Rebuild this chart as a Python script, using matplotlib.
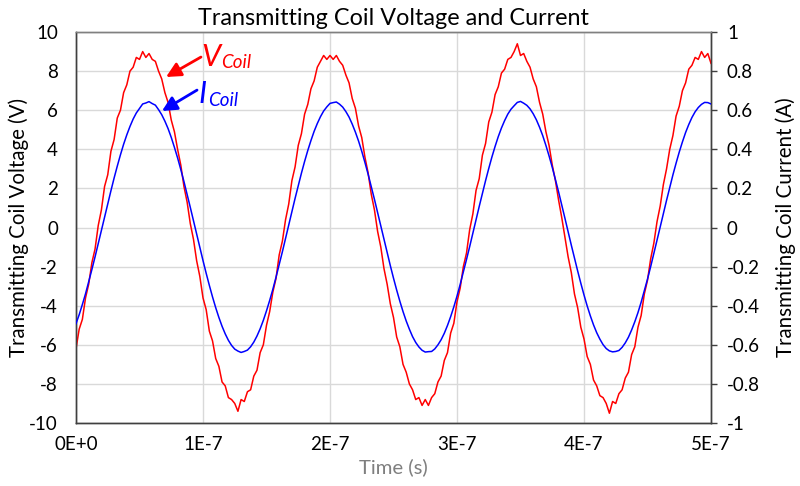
import numpy as np
import matplotlib
matplotlib.use("Agg")
import matplotlib.pyplot as plt

plt.rcParams['font.family'] = ['Lato', 'DejaVu Sans']

# ---- data ----
t_start, t_end = 0.0, 5e-7
n_samples = 201  # sampled every 2.5 ns

coil_voltage = [
    -6.2, -5.2, -4.7, -3.6, -2.9, -1.8, -1.1, 0.1, 0.9, 2.1,
    2.7, 3.9, 4.5, 5.6, 6.0, 6.9, 7.3, 8.0, 8.2, 8.7,
    8.6, 9.0, 8.7, 8.9, 8.6, 8.5, 8.0, 7.6, 6.9, 6.4,
    5.5, 4.9, 4.0, 3.2, 2.1, 1.3, 0.2, -0.6, -1.7, -2.5,
    -3.6, -4.2, -5.3, -5.8, -6.7, -7.1, -7.9, -8.1, -8.7, -8.8,
    -9.0, -9.4, -8.8, -8.9, -8.4, -8.3, -7.6, -7.3, -6.4, -6.0,
    -5.0, -4.3, -3.3, -2.6, -1.4, -0.7, 0.4, 1.2, 2.4, 3.1,
    4.2, 4.8, 5.8, 6.3, 7.1, 7.5, 8.2, 8.5, 8.8, 8.6,
    8.8, 8.6, 8.8, 8.5, 8.3, 7.8, 7.4, 6.6, 6.1, 5.2,
    4.6, 3.6, 2.8, 1.7, 0.9, -0.2, -1.0, -2.1, -2.9, -3.9,
    -4.6, -5.6, -6.1, -7.0, -7.4, -8.0, -8.3, -8.8, -8.7, -9.1,
    -8.8, -9.1, -8.7, -8.5, -7.9, -7.6, -6.8, -6.4, -5.4, -4.9,
    -3.8, -3.1, -2.0, -1.3, -0.1, 0.7, 1.9, 2.5, 3.7, 4.3,
    5.4, 5.9, 6.8, 7.2, 7.9, 8.1, 8.6, 8.7, 9.0, 9.4,
    8.8, 8.9, 8.5, 8.2, 7.6, 7.2, 6.4, 5.8, 4.9, 4.2,
    3.2, 2.4, 1.4, 0.5, -0.5, -1.5, -2.3, -3.4, -4.1, -5.1,
    -5.7, -6.6, -7.0, -7.8, -8.1, -8.6, -8.7, -9.0, -9.5, -8.9,
    -9.0, -8.5, -8.3, -7.7, -7.4, -6.5, -6.1, -5.1, -4.5, -3.4,
    -2.7, -1.6, -0.8, 0.3, 1.1, 2.2, 3.0, 4.0, 4.7, 5.7,
    6.2, 7.0, 7.4, 8.1, 8.3, 8.7, 8.6, 9.0, 8.7, 8.9,
    8.4,
]

coil_current = [
    -0.492, -0.446, -0.394, -0.339, -0.278, -0.215, -0.150, -0.082, -0.014, 0.055,
    0.123, 0.188, 0.253, 0.314, 0.372, 0.426, 0.474, 0.517, 0.555, 0.586,
    0.609, 0.632, 0.637, 0.644, 0.634, 0.626, 0.603, 0.577, 0.544, 0.506,
    0.461, 0.410, 0.356, 0.297, 0.235, 0.170, 0.103, 0.035, -0.034, -0.102,
    -0.169, -0.234, -0.296, -0.355, -0.410, -0.460, -0.505, -0.544, -0.577, -0.603,
    -0.622, -0.632, -0.639, -0.634, -0.627, -0.610, -0.586, -0.555, -0.518, -0.475,
    -0.426, -0.373, -0.316, -0.254, -0.189, -0.124, -0.055, 0.013, 0.081, 0.149,
    0.214, 0.278, 0.338, 0.394, 0.445, 0.492, 0.532, 0.567, 0.596, 0.617,
    0.635, 0.639, 0.642, 0.631, 0.616, 0.593, 0.565, 0.529, 0.488, 0.442,
    0.390, 0.333, 0.273, 0.209, 0.144, 0.076, 0.008, -0.060, -0.129, -0.195,
    -0.259, -0.320, -0.377, -0.430, -0.478, -0.520, -0.558, -0.588, -0.611, -0.628,
    -0.637, -0.635, -0.634, -0.621, -0.600, -0.574, -0.541, -0.501, -0.456, -0.406,
    -0.351, -0.291, -0.228, -0.163, -0.097, -0.028, 0.041, 0.108, 0.175, 0.240,
    0.302, 0.361, 0.415, 0.465, 0.509, 0.547, 0.580, 0.605, 0.623, 0.640,
    0.645, 0.636, 0.625, 0.607, 0.582, 0.551, 0.513, 0.470, 0.420, 0.366,
    0.308, 0.246, 0.182, 0.115, 0.047, -0.022, -0.090, -0.157, -0.222, -0.285,
    -0.345, -0.401, -0.452, -0.498, -0.538, -0.571, -0.599, -0.619, -0.631, -0.636,
    -0.634, -0.629, -0.613, -0.590, -0.561, -0.524, -0.482, -0.435, -0.382, -0.324,
    -0.264, -0.200, -0.133, -0.066, 0.003, 0.071, 0.139, 0.204, 0.269, 0.329,
    0.386, 0.438, 0.486, 0.527, 0.563, 0.592, 0.614, 0.630, 0.640, 0.639,
    0.632,
]

x_tick_values = [0, 1e-7, 2e-7, 3e-7, 4e-7, 5e-7]
x_tick_labels = ["0E+0", "1E-7", "2E-7", "3E-7", "4E-7", "5E-7"]
v_ticks = [-10, -8, -6, -4, -2, 0, 2, 4, 6, 8, 10]
v_tick_labels = ["-10", "-8", "-6", "-4", "-2", "0", "2", "4", "6", "8", "10"]
i_ticks = [-1, -0.8, -0.6, -0.4, -0.2, 0, 0.2, 0.4, 0.6, 0.8, 1]
i_tick_labels = ["-1", "-0.8", "-0.6", "-0.4", "-0.2", "0", "0.2", "0.4", "0.6", "0.8", "1"]

time_s = np.linspace(t_start, t_end, n_samples)

# ---- figure ----
fig = plt.figure(figsize=(8.0, 4.86), dpi=100)
ax = fig.add_axes([0.095, 0.1296, 0.79375, 0.8045])
ax2 = ax.twinx()

ax.plot(time_s, coil_voltage, color='#ff0000', lw=1.1, zorder=3)
ax2.plot(time_s, coil_current, color='#0000ff', lw=1.1, zorder=3)

ax.set_xlim(t_start, t_end)
ax.set_ylim(-10, 10)
ax2.set_ylim(-1, 1)

tick_fs = 13.5
ax.set_xticks(x_tick_values)
ax.set_xticklabels(x_tick_labels, fontsize=tick_fs)
ax.set_yticks(v_ticks)
ax.set_yticklabels(v_tick_labels, fontsize=tick_fs)
ax2.set_yticks(i_ticks)
ax2.set_yticklabels(i_tick_labels, fontsize=tick_fs)

ax.tick_params(axis='x', length=0, pad=9)
ax.tick_params(axis='y', length=0, pad=13)
ax2.tick_params(axis='y', length=4.5, width=1, color='#404040', direction='out', pad=7)

ax.grid(True, color='#d9d9d9', lw=1.0)
ax.set_axisbelow(True)

for sp in ['left', 'bottom', 'right']:
    ax.spines[sp].set_color('#404040')
    ax2.spines[sp].set_color('#404040')
ax.spines['top'].set_color('#808080')
ax2.spines['top'].set_color('#808080')
for a in (ax, ax2):
    for sp in a.spines.values():
        sp.set_linewidth(1.0)

ax.set_title("Transmitting Coil Voltage and Current", fontsize=16.8, pad=5)
ax.set_xlabel("Time (s)", fontsize=14.6, color='#7f7f7f', labelpad=4)
ax.set_ylabel("Transmitting Coil Voltage (V)", fontsize=14.8, labelpad=0)
ax2.set_ylabel("Transmitting Coil Current (A)", fontsize=14.8, labelpad=11)

# ---- annotations ----
ax.annotate("", xy=(0.709e-7, 7.70), xytext=(0.984e-7, 8.72),
            arrowprops=dict(arrowstyle='-|>', color='#ff0000', lw=2.0,
                            mutation_scale=22, shrinkA=0, shrinkB=0), zorder=5)
ax.annotate("", xy=(0.677e-7, 5.96), xytext=(0.953e-7, 7.03),
            arrowprops=dict(arrowstyle='-|>', color='#0000ff', lw=2.0,
                            mutation_scale=22, shrinkA=0, shrinkB=0), zorder=5)

ax.text(0.985e-7, 8.25, "V", color='#ff0000', fontsize=22, style='italic',
        va='baseline', ha='left', zorder=6)
ax.text(1.14e-7, 8.15, "Coil", color='#ff0000', fontsize=13.5, style='italic',
        va='baseline', ha='left', zorder=6)
ax.text(0.965e-7, 6.35, "I", color='#0000ff', fontsize=22, style='italic',
        va='baseline', ha='left', zorder=6)
ax.text(1.04e-7, 6.2, "Coil", color='#0000ff', fontsize=13.5, style='italic',
        va='baseline', ha='left', zorder=6)

fig.savefig("out.png", dpi=100)
